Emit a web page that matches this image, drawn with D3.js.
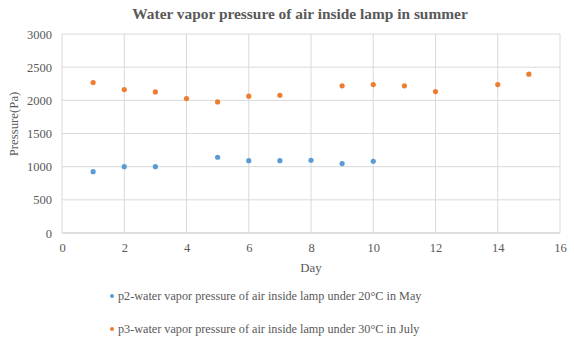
<!DOCTYPE html>
<html>
<head>
<meta charset="utf-8">
<script src="https://cdn.jsdelivr.net/npm/d3@7"></script>
<style>
  body { margin: 0; background: #fff; }
</style>
</head>
<body>
<script>
var width = 574, height = 343;
var serif = "Liberation Serif";

/** data **/
var daysMay = [1, 2, 3, 5, 6, 7, 8, 9, 10];
var p2May = [925, 1000, 1000, 1142, 1091, 1091, 1097, 1046, 1082];
var daysJuly = [1, 2, 3, 4, 5, 6, 7, 9, 10, 11, 12, 14, 15];
var p3July = [2268, 2162, 2127, 2026, 1976, 2062, 2077, 2218, 2237, 2218, 2132, 2237, 2394];
var xTicks = [0, 2, 4, 6, 8, 10, 12, 14, 16];
var yTicks = [0, 500, 1000, 1500, 2000, 2500, 3000];
var seriesNames = [
    "p2-water vapor pressure of air inside lamp under 20°C in May",
    "p3-water vapor pressure of air inside lamp under 30°C in July"
];
var colors = ["#5b9bd5", "#ed7d31"];

var margin = { left: 62, right: 14, top: 34, bottom: 110 };

var svg = d3.select("body").append("svg")
    .attr("width", width).attr("height", height)
    .attr("font-family", serif);

var x = d3.scaleLinear().domain([0, 16]).range([margin.left, width - margin.right]);
var y = d3.scaleLinear().domain([0, 3000]).range([height - margin.bottom, margin.top]);

// gridlines
svg.append("g").selectAll("line").data(yTicks).enter().append("line")
    .attr("x1", x(0)).attr("x2", x(16))
    .attr("y1", d => y(d)).attr("y2", d => y(d))
    .attr("stroke", d => d === 0 ? "#bfbfbf" : "#d9d9d9").attr("stroke-width", 1);
svg.append("g").selectAll("line").data(xTicks).enter().append("line")
    .attr("x1", d => x(d)).attr("x2", d => x(d))
    .attr("y1", y(0)).attr("y2", y(3000))
    .attr("stroke", "#d9d9d9").attr("stroke-width", 1);

// tick labels
var xAxis = svg.append("g")
    .attr("transform", "translate(0," + y(0) + ")")
    .call(d3.axisBottom(x).tickValues(xTicks).tickFormat(d3.format("d")).tickSize(0).tickPadding(10));
var yAxis = svg.append("g")
    .attr("transform", "translate(" + x(0) + ",0)")
    .call(d3.axisLeft(y).tickValues(yTicks).tickFormat(d3.format("d")).tickSize(0).tickPadding(10));
[xAxis, yAxis].forEach(a => {
    a.select(".domain").remove();
    a.attr("font-family", serif).attr("font-size", 12.5);
    a.selectAll("text").attr("fill", "#595959");
});

// points
function dots(days, vals, color) {
    svg.append("g").selectAll("circle").data(days).enter().append("circle")
        .attr("cx", d => x(d))
        .attr("cy", (d, i) => y(vals[i]))
        .attr("r", 2.6)
        .attr("fill", color);
}
dots(daysMay, p2May, colors[0]);
dots(daysJuly, p3July, colors[1]);

// title
svg.append("text")
    .attr("x", 300).attr("y", 19)
    .attr("text-anchor", "middle")
    .attr("font-size", 15.4).attr("font-weight", "bold")
    .attr("fill", "#595959")
    .text("Water vapor pressure of air inside lamp in summer");

svg.append("text")
    .attr("transform", "translate(18,124) rotate(-90)")
    .attr("text-anchor", "middle")
    .attr("font-size", 12.8).attr("fill", "#595959")
    .text("Pressure(Pa)");

svg.append("text")
    .attr("x", (x(0) + x(16)) / 2).attr("y", 272)
    .attr("text-anchor", "middle")
    .attr("font-size", 12.8).attr("fill", "#595959")
    .text("Day");

// legend
var legend = svg.append("g").selectAll("g").data(seriesNames).enter().append("g")
    .attr("transform", (d, i) => "translate(112," + (300 + i * 33) + ")");
legend.append("circle").attr("r", 2).attr("cx", 0).attr("cy", -4)
    .attr("fill", (d, i) => colors[i]);
legend.append("text").attr("x", 6).attr("y", 0)
    .attr("font-size", 12.2).attr("fill", "#595959")
    .text(d => d);
</script>
</body>
</html>
